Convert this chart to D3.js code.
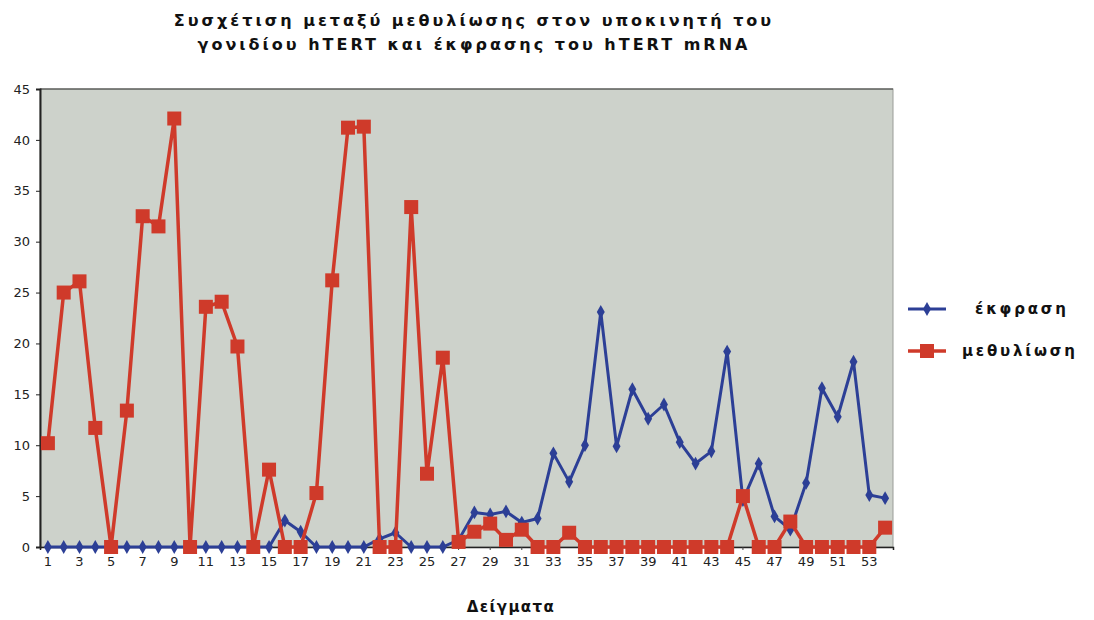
<!DOCTYPE html>
<html>
<head>
<meta charset="utf-8">
<script src="https://cdn.jsdelivr.net/npm/d3@7"></script>
<style>
  html, body { margin: 0; padding: 0; background: #ffffff; }
  svg { display: block; }
  text { font-family: "DejaVu Sans", sans-serif; }
</style>
</head>
<body>
<svg id="chart" width="1094" height="620"></svg>
<script>
// ---- data ----
const samples = d3.range(1, 55); // 54 samples
const tickLabels = d3.range(1, 54, 2); // 1,3,...,53
const yTicks = [0, 5, 10, 15, 20, 25, 30, 35, 40, 45];
const titleLines = ["Συσχέτιση μεταξύ μεθυλίωσης στον υποκινητή του", "γονιδίου hTERT και έκφρασης του hTERT mRNA"];
const xTitle = "Δείγματα";
const seriesNames = ["έκφραση", "μεθυλίωση"];
const expression = [
  0, 0, 0, 0, 0, 0, 0, 0, 0, 0,
  0, 0, 0, 0, 0, 2.6, 1.5, 0, 0, 0,
  0, 0.8, 1.4, 0, 0, 0, 0.7, 3.4, 3.2, 3.5,
  2.4, 2.8, 9.2, 6.4, 10.0, 23.1, 9.9, 15.5, 12.6, 14.0,
  10.3, 8.2, 9.4, 19.2, 4.6, 8.2, 3.0, 1.7, 6.3, 15.6,
  12.8, 18.2, 5.1, 4.8
];
const methylation = [
  10.2, 25.0, 26.1, 11.7, 0, 13.4, 32.5, 31.5, 42.1, 0,
  23.6, 24.1, 19.7, 0, 7.6, 0, 0, 5.3, 26.2, 41.2,
  41.3, 0, 0, 33.4, 7.2, 18.6, 0.5, 1.5, 2.3, 0.7,
  1.7, 0, 0, 1.4, 0, 0, 0, 0, 0, 0,
  0, 0, 0, 0, 5.0, 0, 0, 2.5, 0, 0,
  0, 0, 0, 1.9
];

// ---- layout ----
const svg = d3.select("#chart");
const plot = { left: 40, right: 893, top: 89, bottom: 547 };
const blue = "#2c3f96";
const red = "#cf3a2a";

const x = d3.scaleBand().domain(samples).range([plot.left, plot.right]).paddingInner(0).paddingOuter(0);
const xc = d => x(d) + x.bandwidth() / 2;
const y = d3.scaleLinear().domain([0, 45]).range([plot.bottom, plot.top]);

// plot area background
svg.append("rect")
  .attr("x", plot.left).attr("y", plot.top)
  .attr("width", plot.right - plot.left).attr("height", plot.bottom - plot.top)
  .attr("fill", "#cdd2cb").attr("stroke", "#9a9d98").attr("stroke-width", 1);
svg.append("line").attr("x1", plot.left).attr("x2", plot.right)
  .attr("y1", plot.top).attr("y2", plot.top).attr("stroke", "#3a3a3a").attr("stroke-width", 1.2);

// axes
const yAxis = d3.axisLeft(y).tickValues(yTicks).tickSize(4).tickPadding(6);
const gy = svg.append("g").attr("transform", `translate(${plot.left},0)`).call(yAxis);
gy.select(".domain").attr("stroke", "#222").attr("stroke-width", 2);
gy.selectAll(".tick line").attr("stroke", "#222");
gy.selectAll("text").attr("font-size", 13).attr("fill", "#222").attr("font-family", "DejaVu Sans, sans-serif");

const xAxis = d3.axisBottom(x).tickValues(tickLabels).tickSize(3).tickPadding(7);
const gx = svg.append("g").attr("transform", `translate(0,${plot.bottom})`).call(xAxis);
gx.select(".domain").attr("stroke", "#222").attr("stroke-width", 1.5);
gx.selectAll(".tick line").attr("stroke", "#444");
gx.selectAll("text").attr("font-size", 13).attr("fill", "#222").attr("font-family", "DejaVu Sans, sans-serif");

// lines
const line = d3.line().x((d, i) => xc(samples[i])).y(d => y(d));

// expression (blue)
svg.append("path").datum(expression).attr("d", line)
  .attr("fill", "none").attr("stroke", blue).attr("stroke-width", 3).attr("stroke-linejoin", "round");
const diamond = d3.symbol().type(d3.symbolDiamond).size(55);
svg.append("g").selectAll("path").data(expression).join("path")
  .attr("d", diamond)
  .attr("transform", (d, i) => `translate(${xc(samples[i])},${y(d)})`)
  .attr("fill", blue);

// methylation (red)
svg.append("path").datum(methylation).attr("d", line)
  .attr("fill", "none").attr("stroke", red).attr("stroke-width", 3.5).attr("stroke-linejoin", "round");
svg.append("g").selectAll("rect").data(methylation).join("rect")
  .attr("x", (d, i) => xc(samples[i]) - 7)
  .attr("y", d => y(d) - 7)
  .attr("width", 14).attr("height", 14)
  .attr("fill", red);

// title
svg.append("g").selectAll("text").data(titleLines).join("text")
  .attr("x", 474).attr("y", (d, i) => 26 + i * 24)
  .attr("text-anchor", "middle")
  .attr("font-size", 16).attr("font-weight", "bold").attr("letter-spacing", 3)
  .attr("fill", "#111")
  .text(d => d);

// x title
svg.append("text").attr("x", 511).attr("y", 612).attr("text-anchor", "middle")
  .attr("font-size", 15).attr("font-weight", "bold").attr("letter-spacing", 1.4)
  .attr("fill", "#111").text(xTitle);

// legend
const legend = svg.append("g");
const legY = [309, 351];
legend.append("line").attr("x1", 908).attr("x2", 946).attr("y1", legY[0]).attr("y2", legY[0])
  .attr("stroke", blue).attr("stroke-width", 3);
legend.append("path").attr("d", diamond).attr("transform", `translate(927,${legY[0]})`).attr("fill", blue);
legend.append("line").attr("x1", 908).attr("x2", 946).attr("y1", legY[1]).attr("y2", legY[1])
  .attr("stroke", red).attr("stroke-width", 3.5);
legend.append("rect").attr("x", 920).attr("y", legY[1] - 7).attr("width", 14).attr("height", 14).attr("fill", red);
legend.selectAll("text.lbl").data(seriesNames).join("text")
  .attr("class", "lbl")
  .attr("x", (d, i) => i === 0 ? 975 : 962)
  .attr("y", (d, i) => legY[i] + 5)
  .attr("font-size", 15).attr("font-weight", "bold").attr("letter-spacing", 2.8)
  .attr("fill", "#111").text(d => d);
</script>
</body>
</html>
